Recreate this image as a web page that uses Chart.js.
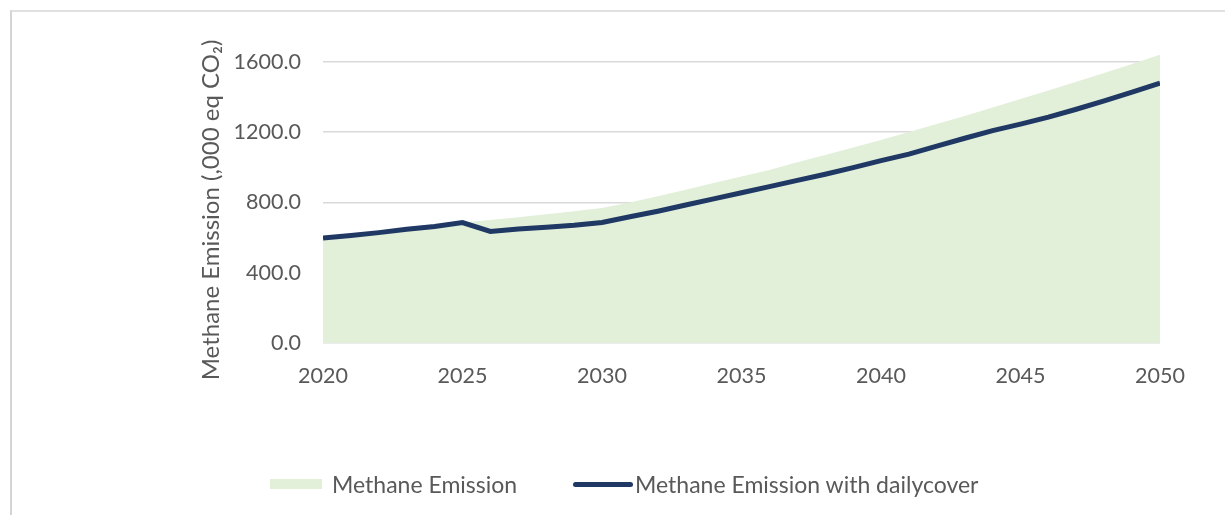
<!DOCTYPE html>
<html>
<head>
<meta charset="utf-8">
<script src="https://cdn.jsdelivr.net/npm/chart.js@4"></script>
<style>
  body { margin: 0; background: #fff; font-family: Lato, "Open Sans", sans-serif; }
  #wrap { position: relative; width: 1225px; height: 515px; overflow: hidden; }
  #frame { position: absolute; left: 10px; top: 10px; width: 1300px; height: 600px;
           border-left: 2px solid #d4d4d4; border-top: 2px solid #e0e0e0; }
  #chart { position: absolute; left: 0; top: 0; }
  #legend { position: absolute; left: 0; top: 0; width: 1225px; height: 515px; pointer-events: none; }
  .item { position: absolute; top: 470px; display: flex; align-items: center; color: #595959; font-size: 23px; }
  .sw { display: inline-block; }
</style>
</head>
<body>
<div id="wrap">
  <div id="frame"></div>
  <canvas id="chart" width="1225" height="515"></canvas>
  <div id="legend"></div>
</div>
<script>
const years = [2020, 2021, 2022, 2023, 2024, 2025, 2026, 2027, 2028, 2029, 2030,
  2031, 2032, 2033, 2034, 2035, 2036, 2037, 2038, 2039, 2040,
  2041, 2042, 2043, 2044, 2045, 2046, 2047, 2048, 2049, 2050];

// Methane Emission (area)
const emission = [600, 615, 630, 648, 665, 685, 700, 715, 732, 750, 768,
  800, 835, 872, 910, 948, 985, 1028, 1070, 1112, 1155,
  1200, 1246, 1292, 1340, 1388, 1437, 1486, 1536, 1587, 1640];

// Methane Emission with dailycover (line)
const withCover = [598, 612, 628, 647, 663, 685, 635, 648, 658, 670, 686,
  718, 750, 785, 820, 855, 890, 925, 960, 998, 1038,
  1075, 1120, 1165, 1208, 1245, 1285, 1330, 1378, 1428, 1478];

const xTicks = [2020, 2025, 2030, 2035, 2040, 2045, 2050];
const yTicks = [0, 400, 800, 1200, 1600];

const seriesNames = ["Methane Emission", "Methane Emission with dailycover"];
const yTitle = "Methane Emission (,000 eq CO\u2082)";
const fillColor = "#e2efd9";
const lineColor = "#1f3864";
const textColor = "#595959";

const pts = (arr) => years.map((y, i) => ({ x: y, y: arr[i] }));

// y axis title, drawn a bit lower than the scale title would sit
const yTitlePlugin = {
  id: "yTitle",
  afterDraw(c) {
    const g = c.ctx;
    g.save();
    g.translate(211, 210);
    g.rotate(-Math.PI / 2);
    g.fillStyle = textColor;
    g.font = "24px Lato";
    g.textAlign = "center";
    g.textBaseline = "middle";
    g.fillText(yTitle, 0, 0);
    g.restore();
  },
};

const ctx = document.getElementById("chart").getContext("2d");
const chart = new Chart(ctx, {
  type: "line",
  data: {
    datasets: [
      {
        label: seriesNames[0],
        data: pts(emission),
        fill: "origin",
        backgroundColor: fillColor,
        borderWidth: 0,
        pointRadius: 0,
        tension: 0,
        order: 2,
      },
      {
        label: seriesNames[1],
        data: pts(withCover),
        fill: false,
        borderColor: lineColor,
        borderWidth: 5,
        pointRadius: 0,
        tension: 0,
        order: 1,
      },
    ],
  },
  options: {
    responsive: false,
    animation: false,
    layout: { padding: { left: 194, top: 53, right: 65, bottom: 0 } },
    plugins: { legend: { display: false }, tooltip: { enabled: false } },
    scales: {
      x: {
        type: "linear",
        min: 2020,
        max: 2050,
        afterBuildTicks: (s) => { s.ticks = xTicks.map((v) => ({ value: v })); },
        afterFit: (s) => { s.height = 172; },
        grid: { display: false, drawTicks: false },
        border: { display: false },
        ticks: {
          padding: 20,
          color: textColor,
          font: { family: "Lato", size: 21.5 },
          callback: (v) => String(v),
        },
      },
      y: {
        min: 0,
        max: 1650,
        afterBuildTicks: (s) => { s.ticks = yTicks.map((v) => ({ value: v })); },
        afterFit: (s) => { s.width = 129; },
        grid: { color: "#d9d9d9", lineWidth: 1.5, drawTicks: false },
        border: { display: false },
        ticks: {
          padding: 22,
          color: textColor,
          font: { family: "Lato", size: 21.5 },
          callback: (v) => v.toFixed(1),
        },
      },
    },
  },
  plugins: [yTitlePlugin],
});

// legend under the plot, built from the dataset labels
const legend = document.getElementById("legend");
const legendPos = [270, 573];
chart.data.datasets.forEach((ds, i) => {
  const item = document.createElement("div");
  item.className = "item";
  item.style.left = legendPos[i] + "px";
  const sw = document.createElement("span");
  sw.className = "sw";
  if (i === 0) {
    sw.style.cssText = "width:52px;height:10px;background:" + fillColor + ";margin-right:10px;";
  } else {
    sw.style.cssText = "width:60px;height:5px;border-radius:3px;background:" + lineColor + ";margin-right:2px;";
  }
  item.appendChild(sw);
  item.appendChild(document.createTextNode(ds.label));
  legend.appendChild(item);
});
</script>
</body>
</html>
